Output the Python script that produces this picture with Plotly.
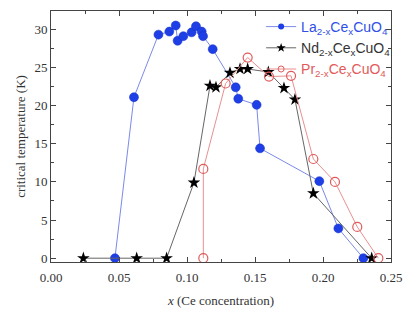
import plotly.graph_objects as go

# La(2-x)Ce(x)CuO4
la_x = [0.047, 0.061, 0.079, 0.087, 0.0917, 0.0931, 0.0973, 0.1034, 0.1066, 0.1108, 0.1118, 0.1189,
        0.1358, 0.1377, 0.1512, 0.1537, 0.1973, 0.2113, 0.2297]
la_y = [0.0, 21.1, 29.3, 29.7, 30.5, 28.5, 29.1, 29.6, 30.4, 29.7, 29.1, 27.4,
        22.4, 20.9, 20.1, 14.4, 10.1, 3.9, 0.0]

# Nd(2-x)Ce(x)CuO4
nd_x = [0.0238, 0.063, 0.085, 0.1051, 0.1169, 0.1213, 0.1316, 0.139, 0.1446, 0.1598, 0.1713, 0.1794,
        0.1929, 0.2358]
nd_y = [0.0, 0.0, 0.0, 9.9, 22.6, 22.4, 24.3, 24.8, 24.8, 24.4, 22.3, 20.8, 8.5, 0.0]

# Pr(2-x)Ce(x)CuO4
pr_x = [0.112, 0.112, 0.1284, 0.1446, 0.1603, 0.1765, 0.1929, 0.2088, 0.2252, 0.2407]
pr_y = [0.0, 11.7, 22.9, 26.3, 23.8, 23.9, 13.0, 10.0, 4.1, 0.0]

names = ['<span style="color:#2f4fe8">La<sub>2-x</sub>Ce<sub>x</sub>CuO<sub>4</sub></span>',
         '<span style="color:#333333">Nd<sub>2-x</sub>Ce<sub>x</sub>CuO<sub>4</sub></span>',
         '<span style="color:#e25a5a">Pr<sub>2-x</sub>Ce<sub>x</sub>CuO<sub>4</sub></span>']

la_line = dict(color="#7b8ae8", width=1)
nd_line = dict(color="#666666", width=1)
pr_line = dict(color="#e89090", width=1)

fig = go.Figure()
fig.add_trace(go.Scatter(x=la_x, y=la_y, mode="lines+markers", showlegend=False, line=la_line,
                         marker=dict(symbol="circle", size=9, color="#1f3fe6",
                                     line=dict(color="#1530c8", width=0.5))))
fig.add_trace(go.Scatter(x=nd_x, y=nd_y, mode="lines+markers", showlegend=False, line=nd_line,
                         marker=dict(symbol="star", size=9.5, color="#000000", line=dict(width=0))))
fig.add_trace(go.Scatter(x=pr_x, y=pr_y, mode="lines+markers", showlegend=False, line=pr_line,
                         marker=dict(symbol="circle-open", size=9, color="#e05a5a", line=dict(width=1.2))))

# legend-only entries with smaller symbols
fig.add_trace(go.Scatter(x=[None], y=[None], mode="lines+markers", name=names[0], line=la_line,
                         marker=dict(symbol="circle", size=6, color="#1f3fe6")))
fig.add_trace(go.Scatter(x=[None], y=[None], mode="lines+markers", name=names[1], line=nd_line,
                         marker=dict(symbol="star", size=7, color="#000000", line=dict(width=0))))
fig.add_trace(go.Scatter(x=[None], y=[None], mode="lines+markers", name=names[2], line=pr_line,
                         marker=dict(symbol="circle-open", size=6, color="#e05a5a", line=dict(width=1))))

axis_common = dict(showline=True, linecolor="#444444", linewidth=1, mirror="ticks",
                   ticks="inside", ticklen=5, tickcolor="#444444", showgrid=False,
                   zeroline=False, automargin=False,
                   tickfont=dict(family="Liberation Serif", size=13, color="#333333"))

fig.update_xaxes(range=[0, 0.25], dtick=0.05, tickformat=".2f", ticklabelstandoff=3,
                 minor=dict(ticks="inside", ticklen=3, dtick=0.025, tickcolor="#444444"),
                 title=dict(text="<i>x</i> (Ce concentration)",
                            font=dict(family="Liberation Serif", size=13, color="#333333"), standoff=12),
                 **axis_common)
fig.update_yaxes(range=[-0.5, 32.4], dtick=5,
                 minor=dict(ticks="inside", ticklen=3, dtick=2.5, tickcolor="#444444"),
                 title=dict(text="critical temperature (K)",
                            font=dict(family="Liberation Serif", size=13, color="#333333"), standoff=5),
                 **axis_common)

fig.update_layout(width=409, height=317, margin=dict(l=51, r=18, t=11, b=55),
                  plot_bgcolor="white", paper_bgcolor="white",
                  legend=dict(x=0.618, y=1.0, xanchor="left", yanchor="top",
                              bgcolor="rgba(0,0,0,0)",
                              font=dict(family="Liberation Sans Narrow, Liberation Sans", size=14),
                              tracegroupgap=0, itemwidth=30))

fig.write_html("out.html", config={"displayModeBar": False},
               post_script="document.body.style.margin='0';document.body.style.overflow='hidden';")
